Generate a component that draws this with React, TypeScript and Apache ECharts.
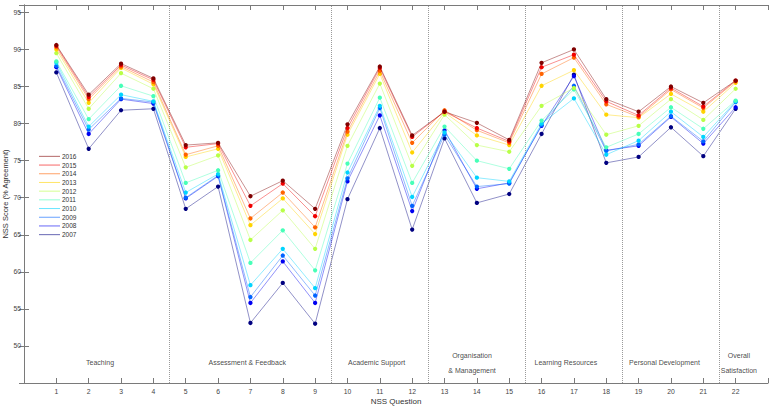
import { useEffect, useRef } from 'react';
import * as echarts from 'echarts';

const questions = [1, 2, 3, 4, 5, 6, 7, 8, 9, 10, 11, 12, 13, 14, 15, 16, 17, 18, 19, 20, 21, 22];
const years = ['2016', '2015', '2014', '2013', '2012', '2011', '2010', '2009', '2008', '2007'];
const yearColors = [
  'rgb(128,0,0)', 'rgb(241,0,0)', 'rgb(255,99,0)', 'rgb(255,212,0)', 'rgb(184,255,71)',
  'rgb(71,255,184)', 'rgb(0,212,255)', 'rgb(0,99,255)', 'rgb(0,0,241)', 'rgb(0,0,128)',
];

const s2016 = [90.6, 83.9, 88.1, 86.1, 77.1, 77.4, 70.2, 72.3, 68.5, 79.9, 87.7, 78.4, 81.6, 80.1, 77.8, 88.2, 90.0, 83.3, 81.6, 85.0, 82.8, 85.8];
const s2015 = [90.5, 83.6, 87.9, 85.9, 76.8, 77.3, 68.9, 71.9, 67.5, 79.4, 87.5, 78.2, 81.6, 79.4, 77.6, 87.6, 89.3, 83.0, 81.1, 84.8, 82.3, 85.8];
const s2014 = [90.3, 83.3, 87.7, 85.6, 75.8, 77.0, 67.2, 70.7, 66.0, 78.9, 87.1, 77.4, 81.8, 79.1, 77.4, 86.7, 88.9, 82.6, 80.9, 84.6, 82.1, 85.7];
const s2013 = [90.0, 82.8, 87.5, 85.3, 75.5, 76.6, 66.3, 69.9, 65.1, 78.5, 86.7, 76.1, 81.5, 78.4, 77.1, 85.1, 87.2, 81.2, 80.8, 84.0, 81.6, 85.5];
const s2012 = [89.5, 82.0, 86.8, 84.7, 74.1, 75.7, 64.3, 68.3, 63.1, 77.0, 85.4, 74.3, 81.2, 77.1, 76.2, 82.4, 84.8, 78.5, 79.7, 83.3, 80.5, 84.7];
const s2011 = [88.4, 80.6, 85.1, 83.7, 72.0, 73.7, 61.2, 65.6, 60.2, 74.6, 83.5, 72.0, 79.6, 75.0, 73.9, 80.4, 84.6, 76.8, 78.6, 82.2, 79.3, 83.1];
const s2010 = [88.2, 79.6, 83.9, 83.0, 70.7, 73.2, 58.2, 63.1, 57.8, 73.4, 82.4, 70.1, 78.8, 72.7, 72.2, 80.0, 83.4, 75.8, 77.7, 81.6, 78.2, 83.0];
const s2009 = [87.8, 79.2, 83.4, 82.9, 70.0, 73.0, 56.6, 62.2, 56.8, 72.6, 82.1, 68.9, 78.5, 71.5, 71.9, 79.8, 85.1, 76.3, 77.2, 81.0, 77.6, 82.9];
const s2008 = [87.6, 78.6, 83.3, 82.7, 69.9, 72.9, 55.8, 61.4, 55.8, 72.2, 81.1, 68.2, 79.1, 71.2, 72.0, 79.7, 86.4, 76.4, 77.0, 80.9, 77.3, 82.2];
const s2007 = [86.9, 76.6, 81.8, 82.0, 68.5, 71.5, 53.1, 58.5, 53.0, 69.8, 79.4, 65.7, 78.0, 69.3, 70.5, 78.6, 86.6, 74.7, 75.5, 79.5, 75.6, 82.0];
const yearValues = [s2016, s2015, s2014, s2013, s2012, s2011, s2010, s2009, s2008, s2007];

// section dividers and labels
const dividers = [4.5, 9.5, 12.5, 15.5, 18.5, 21.5];
const sectionNames = ['Teaching', 'Assessment & Feedback', 'Academic Support', 'Organisation\n& Management', 'Learning Resources', 'Personal Development', 'Overall\nSatisfaction'];
const sectionX = [2.35, 6.9, 10.9, 13.85, 16.75, 19.8, 22.1];
const sectionY = 47.75;

const FONT = 'Liberation Sans, Arial, sans-serif';
const AXIS = '#7a7a7a';

export default function App() {
  const chartRef = useRef<HTMLDivElement>(null);

  useEffect(() => {
    if (!chartRef.current) return;
    const myChart = echarts.init(chartRef.current, null, { renderer: 'svg' });

    const lineSeries = years.map((y, i) => ({
      name: y,
      type: 'line',
      data: questions.map((q, j) => [q, yearValues[i][j]]),
      symbol: 'circle',
      symbolSize: 4.3,
      z: 3 + (10 - i),
      lineStyle: { width: 0.8, color: yearColors[i], opacity: 0.55 },
      itemStyle: { color: yearColors[i] },
      markLine: i === 0 ? {
        silent: true,
        symbol: ['none', 'none'],
        label: { show: false },
        lineStyle: { type: 'dotted', color: '#9a9a9a', width: 1, opacity: 1 },
        data: dividers.map((d) => ({ xAxis: d })),
      } : undefined,
    }));

    const option = {
      animation: false,
      backgroundColor: '#fff',
      textStyle: { fontFamily: FONT },
      grid: { left: 24, right: 5, top: 5, bottom: 26, containLabel: false, outerBoundsMode: 'none' },
      legend: {
        data: years,
        orient: 'vertical',
        left: 34,
        top: 147,
        icon: 'rect',
        itemWidth: 21,
        itemHeight: 1,
        itemGap: 0,
        itemStyle: { opacity: 0.6 },
        textStyle: { fontSize: 6.5, color: '#333333', fontFamily: FONT, lineHeight: 8.7, padding: [0, 0, 0, -3] },
        selectedMode: false,
      },
      xAxis: [
        {
          type: 'value', min: 0, max: 23, interval: 1,
          name: 'NSS Question', nameLocation: 'middle', nameGap: 14, nameMoveOverlap: false,
          nameTextStyle: { fontSize: 8, color: '#333', fontFamily: FONT },
          axisLine: { show: true, lineStyle: { color: AXIS } },
          axisTick: { inside: true, length: 5, lineStyle: { color: AXIS } },
          axisLabel: {
            fontSize: 6.8, color: '#444', margin: 5, fontFamily: FONT,
            formatter: (v: number) => (v >= 1 && v <= 22 ? String(v) : ''),
          },
          splitLine: { show: false },
        },
        {
          type: 'value', min: 0, max: 23, interval: 1, position: 'top',
          axisLine: { show: true, lineStyle: { color: AXIS } },
          axisTick: { inside: true, length: 5, lineStyle: { color: AXIS } },
          axisLabel: { show: false },
          splitLine: { show: false },
        },
      ],
      yAxis: [
        {
          type: 'value', min: 45, max: 96, interval: 5,
          name: 'NSS Score (% Agreement)', nameLocation: 'middle', nameGap: 14.5, nameMoveOverlap: false,
          nameTextStyle: { fontSize: 7.5, color: '#333', fontFamily: FONT },
          axisLine: { show: true, lineStyle: { color: AXIS } },
          axisTick: { inside: true, length: 5, lineStyle: { color: AXIS } },
          axisLabel: {
            fontSize: 6.8, color: '#444', margin: 3, fontFamily: FONT,
            formatter: (v: number) => (v >= 50 && v <= 95 && v % 5 === 0 ? String(v) : ''),
          },
          splitLine: { show: false },
        },
        {
          type: 'value', min: 45, max: 96, interval: 5, position: 'right',
          axisLine: { show: true, lineStyle: { color: AXIS } },
          axisTick: { inside: true, length: 5, lineStyle: { color: AXIS } },
          axisLabel: { show: false },
          splitLine: { show: false },
        },
      ],
      series: [
        ...lineSeries,
        {
          name: 'sections',
          type: 'scatter',
          symbolSize: 0,
          silent: true,
          itemStyle: { color: '#000' },
          data: sectionNames.map((n, i) => ({ name: n, value: [sectionX[i], sectionY] })),
          label: {
            show: true,
            position: 'inside',
            formatter: '{b}',
            fontSize: 7,
            lineHeight: 15,
            color: '#111111',
            textBorderWidth: 0,
            fontFamily: FONT,
          },
        },
      ],
    };

    myChart.setOption(option);

    return () => {
      myChart.dispose();
    };
  }, []);

  return (
    <div
      ref={chartRef}
      style={{ position: 'fixed', left: 0, top: 0, width: 773, height: 409, background: '#fff' }}
    />
  );
}
